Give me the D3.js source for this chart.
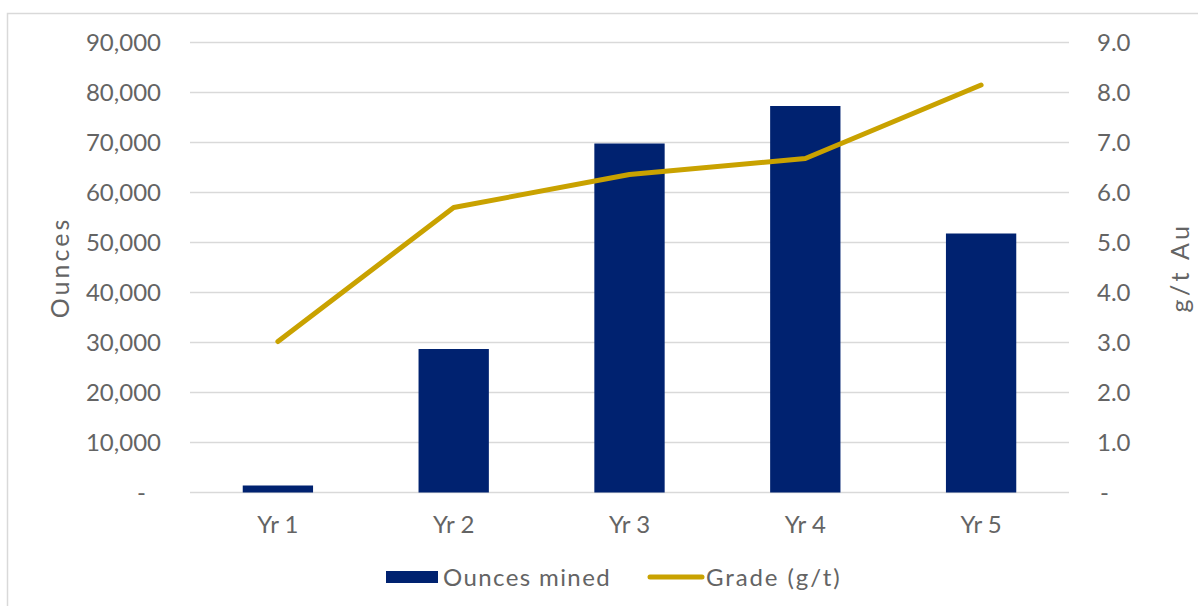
<!DOCTYPE html>
<html>
<head>
<meta charset="utf-8">
<script src="https://cdn.jsdelivr.net/npm/d3@7"></script>
<style>
  html, body { margin: 0; padding: 0; background: #fff; }
  svg { display: block; }
  svg text { font-family: "Century Gothic", Lato, "DejaVu Sans", sans-serif; fill: #595959; font-weight: 400; }
</style>
</head>
<body>
<svg id="chart" width="1198" height="606"></svg>
<script>
// ---- Data ----
const categories = ["Yr 1", "Yr 2", "Yr 3", "Yr 4", "Yr 5"];
const ouncesMined = [1400, 28700, 69800, 77300, 51800];
const gradeGt = [3.02, 5.70, 6.36, 6.68, 8.15];
const leftTicks = [0, 10000, 20000, 30000, 40000, 50000, 60000, 70000, 80000, 90000];
const rightTicks = [0, 1, 2, 3, 4, 5, 6, 7, 8, 9];
const seriesNames = ["Ounces mined", "Grade (g/t)"];
const axisTitles = ["Ounces", "g/t Au"];

// ---- Layout ----
const W = 1198, H = 606;
const plot = { left: 190, right: 1069, top: 42.5, bottom: 492.5 };
const barColor = "#002270";
const lineColor = "#C9A200";
const textColor = "#646464";
const fs = 24;

const svg = d3.select("#chart");

// frame
svg.append("rect").attr("x", 7.5).attr("y", 13.5).attr("width", W + 10).attr("height", H + 10)
  .attr("fill", "none").attr("stroke", "#d9d9d9").attr("stroke-width", 1.5);

const x = d3.scaleBand().domain(categories).range([plot.left, plot.right]).paddingInner(0.6).paddingOuter(0.3);
const yL = d3.scaleLinear().domain([0, 90000]).range([plot.bottom, plot.top]);
const yR = d3.scaleLinear().domain([0, 9]).range([plot.bottom, plot.top]);

// gridlines
svg.append("g").selectAll("line").data(leftTicks).join("line")
  .attr("x1", plot.left).attr("x2", plot.right)
  .attr("y1", d => yL(d)).attr("y2", d => yL(d))
  .attr("stroke", "#d9d9d9").attr("stroke-width", 1.5);

function styleTicks(sel) {
  sel.attr("font-size", fs).style("fill", textColor)
    .style("font-family", "'Century Gothic', Lato, 'DejaVu Sans', sans-serif")
    .style("font-weight", 400);
}

// left axis
const fmtL = d => d === 0 ? "-" : d3.format(",")(d);
const axL = svg.append("g").attr("transform", `translate(${plot.left},0)`)
  .call(d3.axisLeft(yL).tickValues(leftTicks).tickFormat(fmtL).tickSize(0).tickPadding(29));
axL.select(".domain").remove();
styleTicks(axL.selectAll("text"));
axL.selectAll("text").attr("dx", d => d === 0 ? -15 : 0);

// right axis
const fmtR = d => d === 0 ? "-" : d3.format(".1f")(d);
const axR = svg.append("g").attr("transform", `translate(${plot.right},0)`)
  .call(d3.axisRight(yR).tickValues(rightTicks).tickFormat(fmtR).tickSize(0).tickPadding(28));
axR.select(".domain").remove();
styleTicks(axR.selectAll("text"));
axR.selectAll("text").attr("dx", d => d === 0 ? 3 : 0);

// bars
svg.append("g").selectAll("rect").data(categories).join("rect")
  .attr("x", d => x(d)).attr("width", x.bandwidth())
  .attr("y", (d, i) => yL(ouncesMined[i]))
  .attr("height", (d, i) => yL(0) - yL(ouncesMined[i]))
  .attr("fill", barColor);

// line
const line = d3.line().x((d, i) => x(categories[i]) + x.bandwidth() / 2).y(d => yR(d));
svg.append("path").datum(gradeGt).attr("d", line)
  .attr("fill", "none").attr("stroke", lineColor).attr("stroke-width", 5)
  .attr("stroke-linecap", "round").attr("stroke-linejoin", "round");

// x axis labels
const axX = svg.append("g").attr("transform", `translate(0,${plot.bottom})`)
  .call(d3.axisBottom(x).tickSize(0).tickPadding(23));
axX.select(".domain").remove();
styleTicks(axX.selectAll("text"));

// axis titles
svg.append("text").attr("transform", `translate(69,${(plot.top + plot.bottom) / 2}) rotate(-90)`)
  .attr("text-anchor", "middle").attr("font-size", 25).style("fill", textColor)
  .style("letter-spacing", "3px").text(axisTitles[0]);
svg.append("text").attr("transform", `translate(1189,${(plot.top + plot.bottom) / 2}) rotate(-90)`)
  .attr("text-anchor", "middle").attr("font-size", 25).style("fill", textColor)
  .style("letter-spacing", "3.5px").text(axisTitles[1]);

// legend
const lg = svg.append("g");
lg.append("rect").attr("x", 386).attr("y", 571).attr("width", 52).attr("height", 12).attr("fill", barColor);
lg.append("text").attr("x", 443).attr("y", 585.5).attr("font-size", fs).style("fill", textColor)
  .style("letter-spacing", "1.4px").text(seriesNames[0]);
lg.append("line").attr("x1", 650).attr("x2", 702).attr("y1", 577).attr("y2", 577)
  .attr("stroke", lineColor).attr("stroke-width", 5).attr("stroke-linecap", "round");
lg.append("text").attr("x", 706).attr("y", 585.5).attr("font-size", fs).style("fill", textColor)
  .style("letter-spacing", "1.9px").text(seriesNames[1]);
</script>
</body>
</html>
